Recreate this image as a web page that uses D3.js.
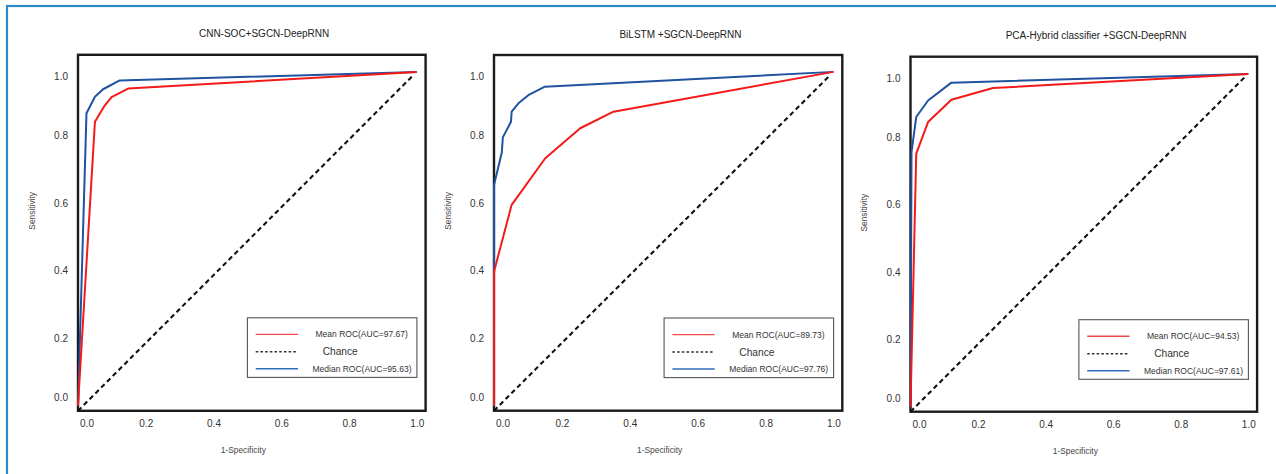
<!DOCTYPE html>
<html>
<head>
<meta charset="utf-8">
<script src="https://cdn.jsdelivr.net/npm/d3@7/dist/d3.min.js"></script>
<style>
  html, body { margin: 0; padding: 0; background: #fff; }
  svg { display: block; font-family: "Liberation Sans", Arial, sans-serif; }
</style>
</head>
<body>
<svg id="chart" width="1276" height="474"></svg>
<script>
// ---- data -------------------------------------------------------------
const titles = [
  "CNN-SOC+SGCN-DeepRNN",
  "BiLSTM +SGCN-DeepRNN",
  "PCA-Hybrid classifier +SGCN-DeepRNN"
];
const meanAuc = ["97.67", "89.73", "94.53"];
const medianAuc = ["95.63", "97.76", "97.61"];
const xTicks = [0, 0.2, 0.4, 0.6, 0.8, 1.0];
const yTicks = [0, 0.2, 0.4, 0.6, 0.8, 1.0];
const xLabel = "1-Specificity";
const yLabel = "Sensitivity";

// CNN-SOC + SGCN-DeepRNN
const cnnMeanFpr   = [0, 0.050, 0.077, 0.099, 0.148, 1.0];
const cnnMeanTpr   = [0, 0.841, 0.886, 0.914, 0.939, 0.988];
const cnnMedianFpr = [0, 0.025, 0.050, 0.074, 0.123, 1.0];
const cnnMedianTpr = [0, 0.866, 0.915, 0.937, 0.963, 0.988];

// BiLSTM + SGCN-DeepRNN
const lstmMeanFpr   = [0, 0, 0.052, 0.151, 0.254, 0.352, 1.0];
const lstmMeanTpr   = [0, 0.397, 0.595, 0.733, 0.822, 0.871, 0.989];
const lstmMedianFpr = [0, 0, 0.023, 0.026, 0.050, 0.052, 0.072, 0.101, 0.150, 1.0];
const lstmMedianTpr = [0, 0.654, 0.750, 0.795, 0.841, 0.871, 0.896, 0.920, 0.945, 0.989];

// PCA-Hybrid classifier + SGCN-DeepRNN
const pcaMeanFpr   = [0, 0.017, 0.052, 0.121, 0.244, 1.0];
const pcaMeanTpr   = [0, 0.751, 0.845, 0.911, 0.946, 0.988];
const pcaMedianFpr = [0, 0.003, 0.017, 0.052, 0.121, 1.0];
const pcaMedianTpr = [0, 0.756, 0.860, 0.909, 0.962, 0.988];

// reference diagonal
const chanceFpr = [0, 0.988];
const chanceTpr = [-0.015, 0.977];

// ---- layout -----------------------------------------------------------
const svg = d3.select("#chart");
const W = 1276, H = 474;
svg.append("rect").attr("width", W).attr("height", H).attr("fill", "#fff");
svg.append("rect")
  .attr("x", 7).attr("y", 6).attr("width", 1320).attr("height", 520)
  .attr("fill", "none").attr("stroke", "#2a8bc9").attr("stroke-width", 2.2);

const panels = [
  { left: 78,    top: 54.8, w: 347.6, h: 356 },
  { left: 494,   top: 55,   w: 348.3, h: 355.7 },
  { left: 910.5, top: 56.7, w: 346.6, h: 355 }
];

const series = [
  { mean: [cnnMeanFpr, cnnMeanTpr],   median: [cnnMedianFpr, cnnMedianTpr] },
  { mean: [lstmMeanFpr, lstmMeanTpr], median: [lstmMedianFpr, lstmMedianTpr] },
  { mean: [pcaMeanFpr, pcaMeanTpr],   median: [pcaMedianFpr, pcaMedianTpr] }
];

const RED = "#f51a1a", BLUE = "#1f52a0";
const zip = (xs, ys) => xs.map((x, i) => [x, ys[i]]);

panels.forEach((p, i) => {
  const g = svg.append("g").attr("transform", `translate(${p.left},${p.top})`);
  const x = d3.scaleLinear().domain([0, 1.026]).range([0, p.w]);
  const y = d3.scaleLinear().domain([-0.015, 1.039]).range([p.h, 0]);
  const line = d3.line().x(d => x(d[0])).y(d => y(d[1]));

  // title
  svg.append("text")
    .attr("x", p.left + p.w / 2 + 12.3).attr("y", p.top - 21)
    .attr("dy", "0.35em").attr("text-anchor", "middle")
    .attr("font-size", 10).attr("fill", "#222")
    .text(titles[i]);

  // axes (labels only)
  const ax = g.append("g").attr("transform", `translate(0,${p.h})`)
    .call(d3.axisBottom(x).tickValues(xTicks).tickFormat(d3.format(".1f")).tickSize(0).tickPadding(9));
  const ay = g.append("g")
    .call(d3.axisLeft(y).tickValues(yTicks).tickFormat(d3.format(".1f")).tickSize(0).tickPadding(10));
  [ax, ay].forEach(a => {
    a.select(".domain").remove();
    a.selectAll("text").attr("font-size", 10).attr("fill", "#333")
      .attr("font-family", "Liberation Sans, Arial, sans-serif");
  });
  ax.selectAll(".tick").filter(d => d === 0).select("text").attr("dx", 8.5);
  ay.selectAll(".tick").filter(d => d === 0).select("text").attr("y", -8);
  ay.selectAll(".tick").filter(d => d === 1).select("text").attr("y", 8);

  // axis titles
  g.append("text")
    .attr("transform", `translate(${-46},${156}) rotate(-90)`)
    .attr("text-anchor", "middle").attr("dy", "0.35em")
    .attr("font-size", 8.4).attr("fill", "#444").text(yLabel);
  g.append("text")
    .attr("x", p.w / 2 - 8.5).attr("y", p.h + 39.5)
    .attr("text-anchor", "middle").attr("dy", "0.35em")
    .attr("font-size", 8.4).attr("fill", "#444").text(xLabel);

  // frame
  g.append("rect").attr("width", p.w).attr("height", p.h)
    .attr("fill", "none").attr("stroke", "#1b1b1b").attr("stroke-width", 2.4);

  // curves
  g.append("path").datum(zip(chanceFpr, chanceTpr)).attr("d", line)
    .attr("fill", "none").attr("stroke", "#111").attr("stroke-width", 2.1)
    .attr("stroke-dasharray", "4.8,3.4");
  g.append("path").datum(zip(...series[i].median)).attr("d", line)
    .attr("fill", "none").attr("stroke", BLUE).attr("stroke-width", 2)
    .attr("stroke-linejoin", "round");
  g.append("path").datum(zip(...series[i].mean)).attr("d", line)
    .attr("fill", "none").attr("stroke", RED).attr("stroke-width", 2)
    .attr("stroke-linejoin", "round");

  // legend
  const lw = 169.5, lh = 59.6;
  const lg = g.append("g").attr("transform", `translate(${p.w - 8.7 - lw},${263})`);
  lg.append("rect").attr("width", lw).attr("height", lh)
    .attr("fill", "#fff").attr("stroke", "#555").attr("stroke-width", 1.1);
  const entries = [
    { label: `Mean ROC(AUC=${meanAuc[i]})`, color: "#f04848", dash: null, size: 8.5, cx: 114.3, yy: 16.6 },
    { label: "Chance", color: "#333", dash: "2.6,2.1", size: 10.2, cx: 92.8, yy: 34 },
    { label: `Median ROC(AUC=${medianAuc[i]})`, color: "#2f6db5", dash: null, size: 8.5, cx: 114.6, yy: 51 }
  ];
  entries.forEach(e => {
    lg.append("line").attr("x1", 8.3).attr("x2", 50.6).attr("y1", e.yy).attr("y2", e.yy)
      .attr("stroke", e.color).attr("stroke-width", 1.4)
      .attr("stroke-dasharray", e.dash);
    lg.append("text").attr("x", e.cx).attr("y", e.yy).attr("dy", "0.35em")
      .attr("text-anchor", "middle").attr("font-size", e.size).attr("fill", "#333")
      .text(e.label);
  });
});
</script>
</body>
</html>
